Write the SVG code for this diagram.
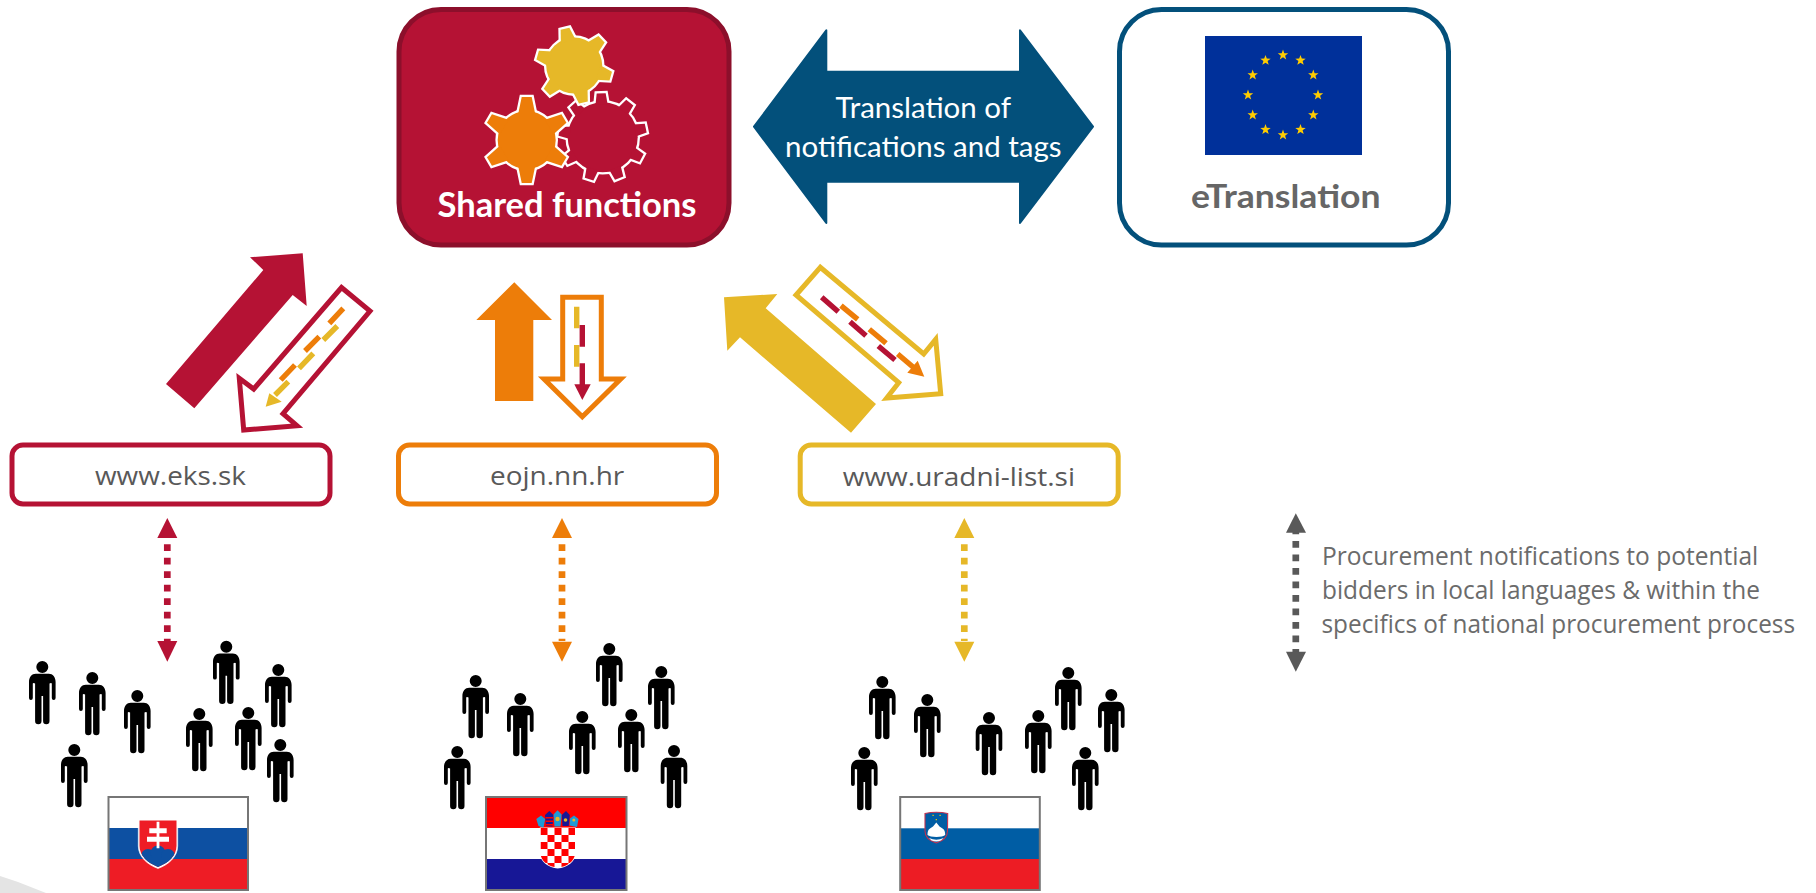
<svg xmlns="http://www.w3.org/2000/svg" xmlns:xlink="http://www.w3.org/1999/xlink" width="1816" height="893" viewBox="0 0 1816 893">
<style>
.lato{font-family:Lato,"Open Sans",sans-serif}
.os{font-family:"Open Sans","Noto Sans",sans-serif}
.url{font-size:25.5px;fill:#595959;text-anchor:start}
.legend{font-size:25px;fill:#6b6b6b}
.portal{fill:#fff;stroke-width:5}
.outline{fill:#fff;stroke-width:5;stroke-miterlimit:8}
.dash{fill:none;stroke-width:5.4}
.dots{fill:none;stroke-width:6.7;stroke-dasharray:6.7 6.8}
.flagb{fill:none;stroke:#767676;stroke-width:2}
.halo{stroke:#fff;stroke-width:4.6;stroke-linejoin:miter}
</style>
<defs>
<path id="person" d="M-6.5 12.7H6.5C10.5 12.7 13.3 16 13.3 21V37A1.9 1.9 0 0 1 9.5 37V22.5C9.5 21.8 8 21.8 7.2 22.5V60A3.2 3.2 0 0 1 .8 60V35H-.8V60A3.2 3.2 0 0 1 -7.2 60V22.5C-8 21.8 -9.5 21.8 -9.5 22.5V37A1.9 1.9 0 0 1 -13.3 37V21C-13.3 16 -10.5 12.7 -6.5 12.7ZM6 6A6 6 0 1 1 -6 6A6 6 0 1 1 6 6Z"/>
<polygon id="star" points="0,-5.5 1.3,-1.8 5.2,-1.7 2.1,.7 3.2,4.4 0,2.3 -3.2,4.4 -2.1,.7 -5.2,-1.7 -1.3,-1.8"/>
<g id="gearOrange">
<circle r="29"/>
<polygon id="to" points="-8.5,-26 -5,-43 5,-43 8.5,-26"/>
<use href="#to" transform="rotate(60)"/><use href="#to" transform="rotate(120)"/><use href="#to" transform="rotate(180)"/><use href="#to" transform="rotate(240)"/><use href="#to" transform="rotate(300)"/>
</g>
<g id="gearGold">
<circle r="28"/>
<polygon id="tg" points="-7.5,-25 -4.5,-38 4.5,-38 7.5,-25" transform="rotate(-14)"/>
<use href="#tg" transform="rotate(60)"/><use href="#tg" transform="rotate(120)"/><use href="#tg" transform="rotate(180)"/><use href="#tg" transform="rotate(240)"/><use href="#tg" transform="rotate(300)"/>
</g>
<g id="gearHollow">
<circle r="35"/>
<polygon id="th" points="-6,-33 -4.5,-44 4.5,-44 6,-33" transform="rotate(-2)"/>
<use href="#th" transform="rotate(40)"/><use href="#th" transform="rotate(80)"/><use href="#th" transform="rotate(120)"/><use href="#th" transform="rotate(160)"/><use href="#th" transform="rotate(200)"/><use href="#th" transform="rotate(240)"/><use href="#th" transform="rotate(280)"/><use href="#th" transform="rotate(320)"/>
</g>
<clipPath id="skShield"><path d="M139.5 820.5H176.5V846C176.5 856 168 863 158 867C148 863 139.5 856 139.5 846Z"/></clipPath>
<clipPath id="hrShield"><path d="M540.5 828H575V853C575 861 567 867 557.7 867.5C548.5 867 540.5 861 540.5 853Z"/></clipPath>
</defs>

<polygon id="corner-swoosh" points="0,876 18,882 46,893 0,893" fill="#e4e4e4"/>

<g id="connectors">
<polygon fill="#03507b" stroke="#03507b" stroke-width="2" stroke-linejoin="round" points="754,126.7 826.3,30.3 826.3,71.7 1020,71.7 1020,30.3 1093,126.7 1020,223 1020,181.7 826.3,181.7 826.3,223"/>
<g id="arrows-sk">
<polygon fill="#b51234" points="302.7,253.3 250,257.3 263.3,270 166,384 194.3,408.3 292.7,295 306.7,306"/>
<polygon class="outline" stroke="#b51234" points="341.5,287.5 370,311 283,413.7 297,425.7 243.7,430 239.3,378.3 253.7,389"/>
<path class="dash" stroke="#ed7d09" d="M343.3 308.3L329.3 323.3M319.3 336.7L305 351M295 365L280.7 380"/>
<path class="dash" stroke="#e6b828" d="M337.3 326L323.3 340M313.3 353.3L299 368.3M288.3 381.7L275 395"/>
<polygon fill="#e6b828" points="265.7,406.7 269.3,393.3 281.7,401.7"/>
</g>
<g id="arrows-hr">
<polygon fill="#ed7d09" points="514.3,282.3 552,320 533.3,320 533.3,401 495,401 495,320 476.3,320"/>
<polygon class="outline" stroke="#ed7d09" points="562.7,297.3 601.3,297.3 601.3,379 620.7,379 582.3,416.7 544,379 562.7,379"/>
<path class="dash" stroke="#e6b828" d="M576.7 306.7V328.3M576.7 345V366.7"/>
<path class="dash" stroke="#b51234" d="M582.3 325V346.7M582.3 363.3V385"/>
<polygon fill="#b51234" points="574.3,384.3 590.7,384.3 582.3,400"/>
</g>
<g id="arrows-si">
<polygon fill="#e6b828" points="724,297.3 777.3,294 765.7,308.3 876,404 851,432.7 740,337.3 727.3,350.7"/>
<polygon class="outline" stroke="#e6b828" points="820.3,267.3 796,295 898.7,382.7 886.7,398 940.7,393.7 935.7,339.3 923.7,354"/>
<path class="dash" stroke="#b51234" d="M821.7 297.3L838.3 311.7M850 321.7L866 335.7M878.3 346L895 360"/>
<path class="dash" stroke="#ed7d09" d="M841 305.7L857.7 319.3M869.3 329.3L886 343.3M897.7 354L913.3 367.3"/>
<polygon fill="#ed7d09" points="924.3,376.7 907.3,372.7 917.7,360.7"/>
</g>
<g id="dotted-sk" fill="#b51234">
<path class="dots" stroke="#b51234" d="M167.3 530.7V641"/>
<polygon points="167.3,518 177.3,538 157.3,538"/>
<polygon points="157.3,641 177.3,641 167.3,661.7"/>
</g>
<g id="dotted-hr" fill="#ed7d09">
<path class="dots" stroke="#ed7d09" d="M562 530.7V641"/>
<polygon points="562,518 572,538 552,538"/>
<polygon points="552,641.7 572,641.7 562,661.7"/>
</g>
<g id="dotted-si" fill="#e6b828">
<path class="dots" stroke="#e6b828" d="M964.3 530.7V641"/>
<polygon points="964.3,518 974.3,538 954.3,538"/>
<polygon points="954.3,641.7 974.3,641.7 964.3,661.7"/>
</g>
<g id="dotted-legend" fill="#595959">
<path class="dots" stroke="#595959" d="M1295.8 527.5V652"/>
<polygon points="1295.8,513.3 1306,532.7 1286,532.7"/>
<polygon points="1286,651.7 1306,651.7 1295.8,671.7"/>
</g>
</g>

<g id="node-shared-functions">
<rect x="399" y="9.5" width="330" height="235.5" rx="42" fill="#b51234" stroke="#8c0f2b" stroke-width="5"/>
<g transform="translate(602.7,137.3)"><use href="#gearHollow" class="halo" fill="#b51234"/><use href="#gearHollow" fill="#b51234"/></g>
<g transform="translate(574.2,65.6)"><use href="#gearGold" class="halo" fill="#e6b828"/><use href="#gearGold" fill="#e6b828"/></g>
<g transform="translate(526.7,140)"><use href="#gearOrange" class="halo" fill="#ed7d09"/><use href="#gearOrange" fill="#ed7d09"/></g>
<text class="lato" x="437.5" y="217" font-size="35" font-weight="700" fill="#fff" textLength="259" lengthAdjust="spacingAndGlyphs">Shared functions</text>
</g>

<g id="label-translation">
<text class="lato" x="835.5" y="118.3" font-size="28.5" fill="#fff" textLength="175.5" lengthAdjust="spacingAndGlyphs">Translation of</text>
<text class="lato" x="785" y="156.7" font-size="28.5" fill="#fff" textLength="276.5" lengthAdjust="spacingAndGlyphs">notifications and tags</text>
</g>

<g id="node-etranslation">
<rect x="1119.5" y="9.5" width="329" height="235.5" rx="42" fill="#fff" stroke="#03507b" stroke-width="5"/>
<rect x="1205" y="36" width="157" height="119" fill="#00309a"/>
<g fill="#ffcc00">
<use href="#star" x="1283" y="55"/><use href="#star" x="1300.5" y="60.4"/><use href="#star" x="1313.3" y="75"/><use href="#star" x="1318" y="95"/><use href="#star" x="1313.3" y="115"/><use href="#star" x="1300.5" y="129.6"/><use href="#star" x="1283" y="135"/><use href="#star" x="1265.5" y="129.6"/><use href="#star" x="1252.7" y="115"/><use href="#star" x="1248" y="95"/><use href="#star" x="1252.7" y="75"/><use href="#star" x="1265.5" y="60.4"/>
</g>
<text class="lato" x="1191" y="208" font-size="33" font-weight="700" fill="#666" textLength="189.5" lengthAdjust="spacingAndGlyphs">eTranslation</text>
</g>

<g id="node-eks">
<rect class="portal" x="12" y="445" width="318" height="59" rx="11" stroke="#b51234"/>
<text class="os url" x="95" y="485" textLength="151" lengthAdjust="spacingAndGlyphs">www.eks.sk</text>
</g>
<g id="node-eojn">
<rect class="portal" x="398.5" y="445" width="318" height="59" rx="11" stroke="#ed7d09"/>
<text class="os url" x="490" y="485" textLength="134.3" lengthAdjust="spacingAndGlyphs">eojn.nn.hr</text>
</g>
<g id="node-uradni">
<rect class="portal" x="800.2" y="445" width="318" height="59" rx="11" stroke="#e6b828"/>
<text class="os url" x="842.7" y="485.5" textLength="232.3" lengthAdjust="spacingAndGlyphs">www.uradni-list.si</text>
</g>

<g id="legend-text" class="os legend">
<text x="1322" y="565" textLength="436.3" lengthAdjust="spacingAndGlyphs">Procurement notifications to potential</text>
<text x="1322" y="598.7" textLength="438" lengthAdjust="spacingAndGlyphs">bidders in local languages &amp; within the</text>
<text x="1321.5" y="632.7" textLength="473.5" lengthAdjust="spacingAndGlyphs">specifics of national procurement process</text>
</g>

<g id="people-sk" fill="#000">
<use href="#person" x="42.3" y="661"/><use href="#person" x="92.3" y="672"/><use href="#person" x="137.3" y="690"/><use href="#person" x="74.3" y="744"/><use href="#person" x="226.3" y="640.7"/><use href="#person" x="278.3" y="664"/><use href="#person" x="199.3" y="708"/><use href="#person" x="248.3" y="707"/><use href="#person" x="280.3" y="739"/>
</g>
<g id="people-hr" fill="#000">
<use href="#person" x="475.7" y="675"/><use href="#person" x="520.3" y="693"/><use href="#person" x="457.3" y="746"/><use href="#person" x="609.3" y="643"/><use href="#person" x="661.3" y="666"/><use href="#person" x="582.3" y="711"/><use href="#person" x="631.3" y="709"/><use href="#person" x="674" y="745"/>
</g>
<g id="people-si" fill="#000">
<use href="#person" x="882.3" y="676"/><use href="#person" x="927.3" y="694"/><use href="#person" x="864.3" y="747"/><use href="#person" x="1068.3" y="667"/><use href="#person" x="1111.3" y="689"/><use href="#person" x="989" y="712"/><use href="#person" x="1038.3" y="710"/><use href="#person" x="1085.3" y="747"/>
</g>

<g id="flag-sk">
<rect x="108.5" y="797" width="139.5" height="31" fill="#fff"/>
<rect x="108.5" y="828" width="139.5" height="31" fill="#0d50a2"/>
<rect x="108.5" y="859" width="139.5" height="31" fill="#ee1c25"/>
<path d="M138.3 820H177.7V846C177.7 857 168 865 158 868.5C148 865 138.3 857 138.3 846Z" fill="#fff" stroke="#fff" stroke-width=".6"/>
<path d="M139.5 820.5H176.5V846C176.5 856 168 863 158 867C148 863 139.5 856 139.5 846Z" fill="#ee1c25"/>
<g clip-path="url(#skShield)" fill="#0d50a2">
<circle cx="148" cy="856" r="7"/><circle cx="158" cy="853" r="7.5"/><circle cx="168" cy="856" r="7"/><rect x="138" y="858" width="40" height="12"/>
</g>
<path d="M156.6 821.7h2.8v6.6h7.3v5h-7.3v3.4h9.6v5h-9.6v6.5h-2.8v-6.5h-9.6v-5h9.6v-3.4h-7.3v-5h7.3z" fill="#fff"/>
<rect class="flagb" x="108.5" y="797" width="139.5" height="93"/>
</g>

<g id="flag-hr">
<rect x="486" y="797" width="140.5" height="31" fill="#f00"/>
<rect x="486" y="828" width="140.5" height="31" fill="#fff"/>
<rect x="486" y="859" width="140.5" height="31" fill="#171796"/>
<path d="M539.8 827.5H575.8V853C575.8 861.5 567 868 557.7 868.5C548.5 868 539.8 861.5 539.8 853Z" fill="#fff"/>
<g clip-path="url(#hrShield)" fill="#f00">
<rect x="540.5" y="828" width="7" height="7"/><rect x="554.5" y="828" width="7" height="7"/><rect x="568.5" y="828" width="7" height="7"/>
<rect x="547.5" y="835" width="7" height="7"/><rect x="561.5" y="835" width="7" height="7"/>
<rect x="540.5" y="842" width="7" height="7"/><rect x="554.5" y="842" width="7" height="7"/><rect x="568.5" y="842" width="7" height="7"/>
<rect x="547.5" y="849" width="7" height="7"/><rect x="561.5" y="849" width="7" height="7"/>
<rect x="540.5" y="856" width="7" height="7"/><rect x="554.5" y="856" width="7" height="7"/><rect x="568.5" y="856" width="7" height="7"/>
<rect x="547.5" y="863" width="7" height="5"/><rect x="561.5" y="863" width="7" height="5"/>
</g>
<g id="hr-crown">
<path d="M536.3 819L541 815.5L545.2 819L543.5 827.5L538.5 826Z" fill="#1e9ad6"/>
<path d="M545 815L549.3 811L553.5 815L552.5 826.5L546 826Z" fill="#171796"/>
<path d="M545.5 817h7.5v1.6h-7.5zM545.5 820.5h7.5v1.6h-7.5zM545.5 824h7.5v1.6h-7.5z" fill="#f00"/>
<path d="M553.5 814.5L557.5 810.2L561.7 814.5L560.5 826.5H554.5Z" fill="#1e9ad6"/>
<circle cx="557.5" cy="819" r="2.2" fill="#e6b828"/>
<path d="M561.8 815L566 811L569.8 815L568.7 826H562.5Z" fill="#171796"/>
<circle cx="565.5" cy="820" r="1.8" fill="#e6b828"/>
<path d="M570 818.5L574 815.5L578.5 819L577 827L569.5 825.5Z" fill="#1e9ad6"/>
<circle cx="573.8" cy="820" r="1.5" fill="#e6b828"/>
</g>
<rect class="flagb" x="486" y="797" width="140.5" height="93"/>
</g>

<g id="flag-si">
<rect x="900.2" y="797" width="139.6" height="31.3" fill="#fff"/>
<rect x="900.2" y="828.3" width="139.6" height="30.7" fill="#005da4"/>
<rect x="900.2" y="859" width="139.6" height="31" fill="#ed1c24"/>
<path d="M925 813.5Q936.3 811 947.7 813.5L947.5 831C947.5 838 941 841.5 936.3 843C931.5 841.5 925 838 925 831Z" fill="#005da4" stroke="#c2324f" stroke-width="1.1"/>
<path d="M927.5 835C927.5 832 928 829.5 930 828.5L933 826.5L936.3 822.5L939.5 826.5L942.5 828.5C944.5 829.5 945.2 832 945.2 835C943 837.5 930 837.5 927.5 835Z" fill="#fff"/>
<path d="M929 838Q936.3 841.5 943.7 838L941 840.5Q936.3 842.5 931.5 840.5Z" fill="#fff"/>
<path d="M932.5 814.7h1.2v1.2h-1.2zM939.5 814.7h1.2v1.2h-1.2zM935.7 819h1.2v1.2h-1.2z" fill="#ffcc00"/>
<rect class="flagb" x="900.2" y="797" width="139.6" height="93"/>
</g>
</svg>
